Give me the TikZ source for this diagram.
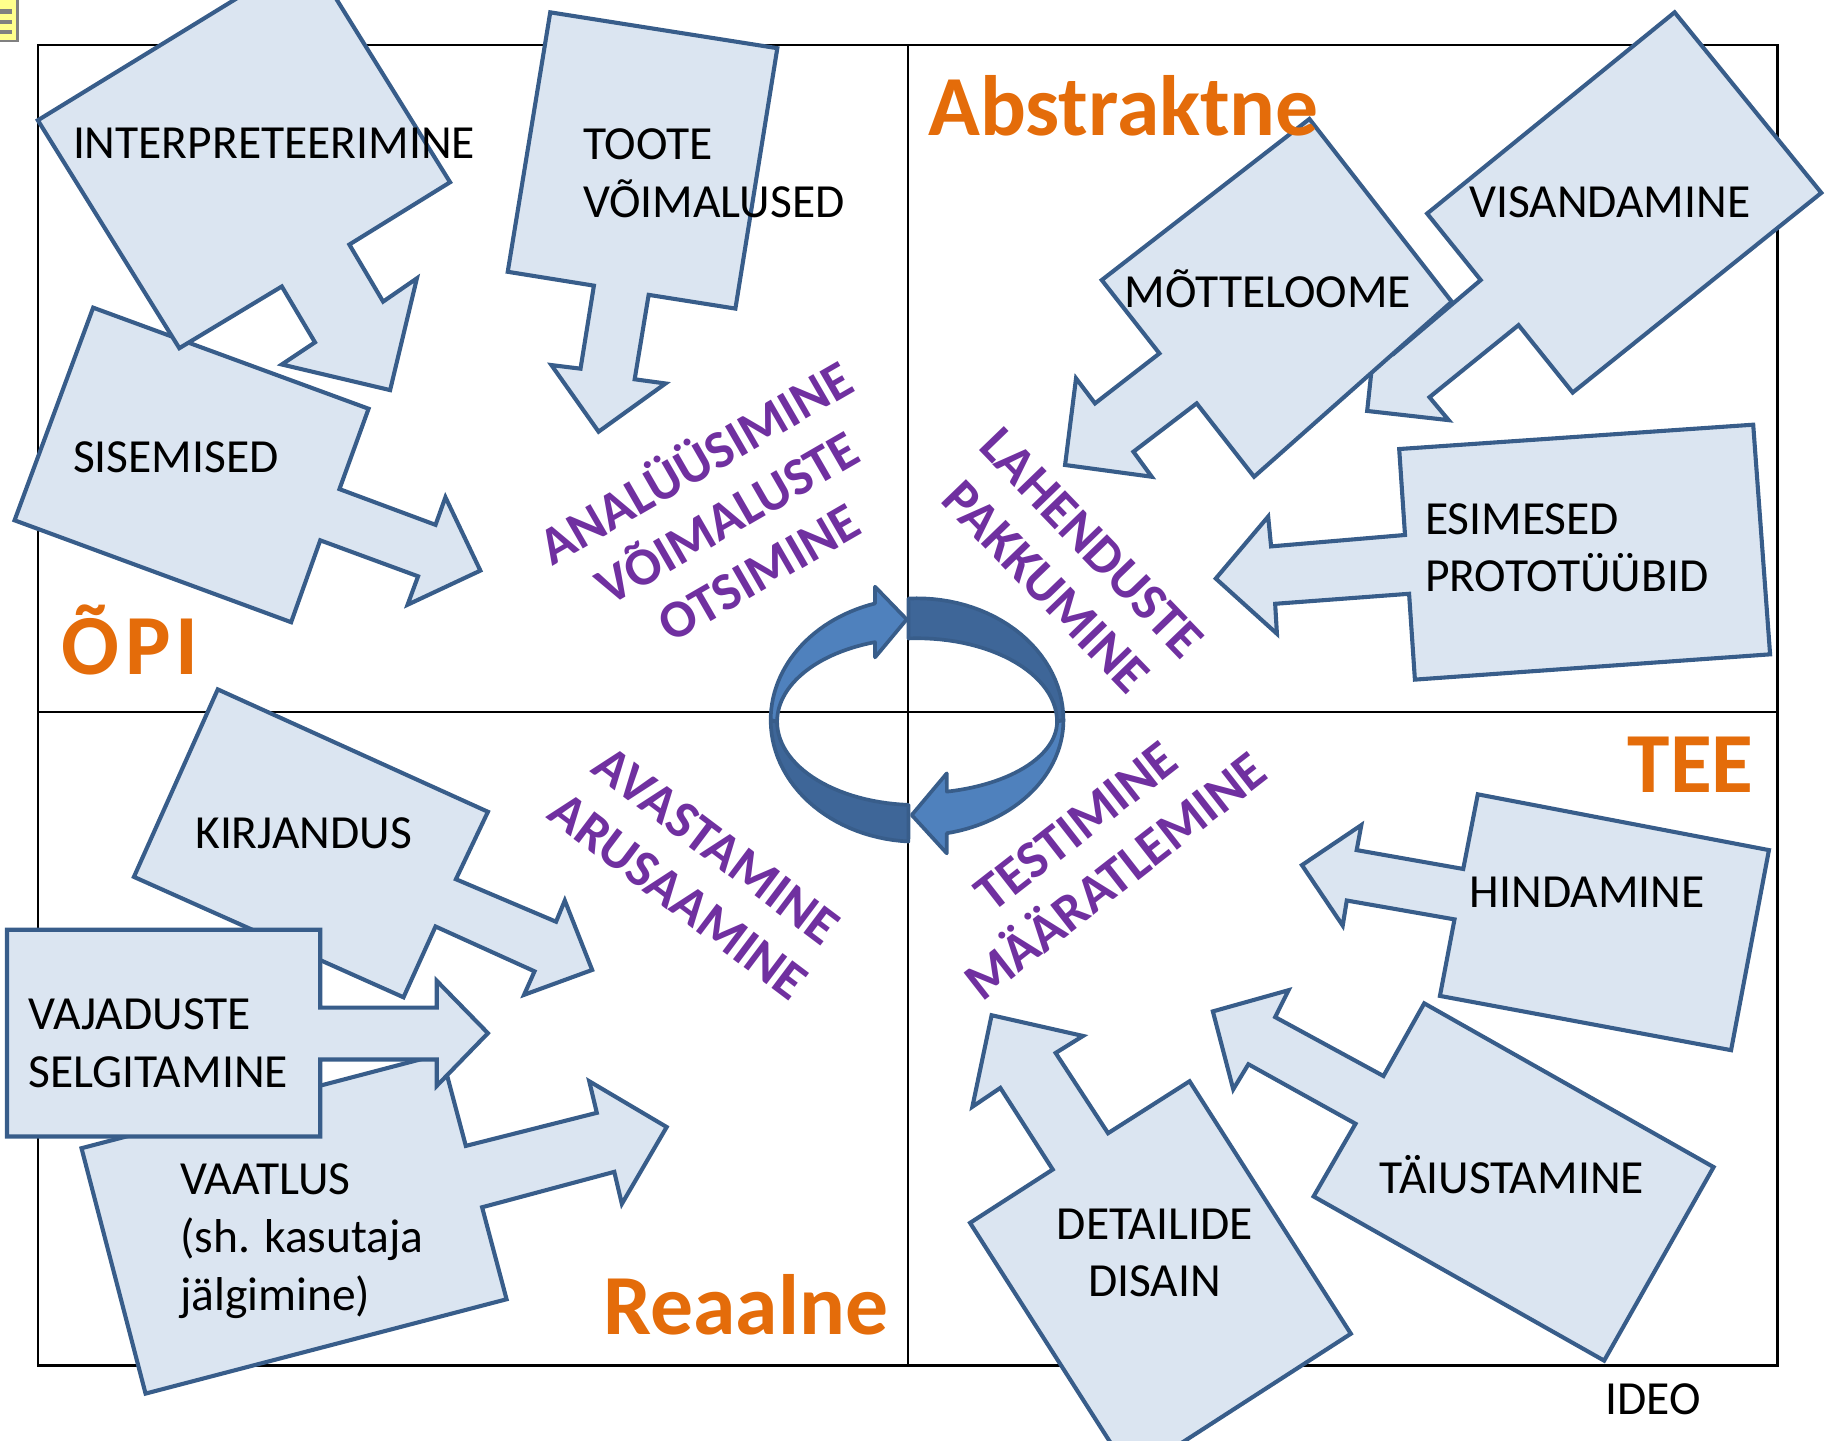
\documentclass[tikz,border=0pt]{standalone}
\usepackage{fontspec}
\setmainfont{Carlito}
\usepackage{tikz}
\definecolor{boxfill}{RGB}{219,229,241}
\definecolor{boxline}{RGB}{56,93,138}
\definecolor{titleorange}{RGB}{228,108,10}
\definecolor{phasepurple}{RGB}{112,48,160}
\definecolor{ringlight}{RGB}{79,129,189}
\definecolor{ringdark}{RGB}{62,102,152}
\definecolor{notefill}{RGB}{255,255,140}

\begin{document}
\begin{tikzpicture}[x=0.01cm, y=-0.01cm,
  callout/.style={draw=boxline, fill=boxfill, line width=1pt},
  lbl/.style={font=\fontsize{11.6}{14.1}\selectfont, inner sep=0pt, align=left},
  titletext/.style={font=\fontsize{20.9}{24}\selectfont\bfseries, text=titleorange, inner sep=0pt},
  phasetext/.style={font=\fontsize{13}{15.5}\selectfont\bfseries, text=phasepurple, inner sep=0pt, align=center},
  ringband/.style={draw=boxline, line width=0.9pt, line join=round}]
  \useasboundingbox (0,0) rectangle (1568,1237);
  \clip (0,0) rectangle (1568,1237);

  % frame
  \draw[line width=0.6pt] (32.5,38.5) rectangle (1526.5,1172.5);
  \draw[line width=0.6pt] (779.5,38.5) -- (779.5,1172.5);
  \draw[line width=0.6pt] (32.5,611.5) -- (1526.5,611.5);

  % note marker
  \draw[gray, fill=notefill, line width=0.6pt] (-3,-3) rectangle (15.2,35.3);
  \foreach \y in {9.9,18.6,27.2}
    \draw[gray, line width=1pt] (0,\y) -- (10.6,\y);

  % callouts
  \draw[callout] (80,264.2) -- (316.5,351) -- (291.5,420) -- (374,450.7) -- (382.5,427) -- (412.5,490) -- (350,519.3) -- (359,494.9) -- (275,464) -- (250,534.3) -- (12.5,446.8) -- cycle;
  \draw[callout] (32.5,103.3) -- (265,-39.2) -- (386.5,156.5) -- (300,210) -- (329,259) -- (358,239) -- (335,335) -- (242,313) -- (270.5,294) -- (242,246) -- (154,299) -- cycle;
  \draw[callout] (472.5,10.6) -- (667.5,41.4) -- (631.5,265) -- (557,253.2) -- (545,325.7) -- (571.5,329.3) -- (514,370.7) -- (473.5,313.5) -- (498.5,316.6) -- (510,245.3) -- (436,233.4) -- cycle;
  \draw[callout] (1438,10.6) -- (1564,165.6) -- (1350.5,337.1) -- (1304,279.2) -- (1227.5,341.1) -- (1244,360.8) -- (1174,352.9) -- (1181.5,283.1) -- (1197,303.6) -- (1271.5,240.5) -- (1225.5,183.4) -- cycle;
  \draw[callout] (1124.4,102.2) -- (1246.6,259.1) -- (1076.9,409.4) -- (1027.6,346.4) -- (973.3,387.9) -- (989,409.4) -- (914.6,399.3) -- (924,324.9) -- (940.3,346.4) -- (995.6,303.5) -- (946.1,240.5) -- cycle;
  \draw[callout] (1201.5,385.6) -- (1505.5,364.7) -- (1520,561.9) -- (1215,583.6) -- (1210,509.9) -- (1095,518.5) -- (1096.5,544.2) -- (1044,496.8) -- (1089,443.6) -- (1091.5,469.2) -- (1206.5,459.4) -- cycle;
  \draw[callout] (187,592) -- (419,697.1) -- (391.5,755) -- (477.5,791.5) -- (485,773.3) -- (508.5,832.9) -- (450,854.3) -- (459,834.1) -- (374,795.6) -- (346.5,856.4) -- (115,753) -- cycle;
  \draw[callout] (70,986) -- (379,905) -- (400,984) -- (512.5,955.6) -- (506,928.5) -- (572.5,967.8) -- (534,1033.8) -- (527.5,1006.3) -- (414,1036.7) -- (435,1115.7) -- (125,1196.7) -- cycle;
  \draw[callout] (6,798.4) -- (275,798.4) -- (275,865.3) -- (375,865.3) -- (375,842.2) -- (419,887.2) -- (375,932.5) -- (375,909.8) -- (275,909.8) -- (275,975.9) -- (6,975.9) -- cycle;
  \draw[callout] (1269,682.1) -- (1519,730) -- (1486.5,901.8) -- (1236.5,855.2) -- (1249,789.5) -- (1156.5,773.3) -- (1153,794.8) -- (1118,742.9) -- (1169,708.5) -- (1165,730) -- (1256.5,746.2) -- cycle;
  \draw[callout] (1223,861.6) -- (1471.5,1002.2) -- (1377.5,1168.4) -- (1128,1027.4) -- (1164,965) -- (1072,913.9) -- (1059,935.4) -- (1041.5,868.5) -- (1106.5,850.3) -- (1095,873.4) -- (1188,924) -- cycle;
  \draw[callout] (1021.5,928.5) -- (1160,1145.3) -- (971.5,1266.9) -- (833,1050.1) -- (904,1004.3) -- (859,934.2) -- (835,950.4) -- (851.5,871.8) -- (930,889.6) -- (906.5,904.2) -- (951.5,973.1) -- cycle;

  % ring in the middle
  \draw[ringband, fill=ringdark] plot[variable=\t, domain=266.6:360, samples=30] ({787.5+125.7*cos(\t)},{618.3+104.5*sin(\t)})
    -- plot[variable=\t, domain=360:266.5, samples=30] ({787.5+120.2*cos(\t)},{619.7+71.6*sin(\t)}) -- cycle;
  \draw[ringband, fill=ringdark] plot[variable=\t, domain=93.4:180, samples=30] ({787.5+125.7*cos(\t)},{618.3+104.5*sin(\t)})
    -- plot[variable=\t, domain=180:93.5, samples=30] ({787.5+120.2*cos(\t)},{619.7+71.6*sin(\t)}) -- cycle;
  \draw[ringband, fill=ringlight] plot[variable=\t, domain=180:253.3, samples=30] ({787.5+125.7*cos(\t)},{618.3+104.5*sin(\t)})
    -- (751.4,503.8) -- (778.6,531.9) -- (751.4,564.5)
    -- plot[variable=\t, domain=252.5:180, samples=30] ({787.5+120.2*cos(\t)},{619.7+71.6*sin(\t)}) -- cycle;
  \draw[ringband, fill=ringlight] plot[variable=\t, domain=0:78.3, samples=30] ({787.5+125.7*cos(\t)},{618.3+99.3*sin(\t)})
    -- (813,732.8) -- (782.9,699.9) -- (813,664.1)
    -- plot[variable=\t, domain=77.7:0, samples=30] ({787.5+120.2*cos(\t)},{619.7+61.5*sin(\t)}) -- cycle;

  % texts
  \node[lbl, anchor=base west] (0) at (62,136) {INTERPRETEERIMINE};
  \node[lbl, anchor=north west] (1) at (500,110.2) {TOOTE\\VÕIMALUSED};
  \node[lbl, anchor=base west] (2) at (62,406) {SISEMISED};
  \node[lbl, anchor=base west] (3) at (965,264) {MÕTTELOOME};
  \node[lbl, anchor=base west] (4) at (1261,187) {VISANDAMINE};
  \node[lbl, anchor=north west] (5) at (1223,431.6) {ESIMESED\\PROTOTÜÜBID};
  \node[lbl, anchor=base west] (6) at (167,729) {KIRJANDUS};
  \node[lbl, anchor=north west] (7) at (24,856.9) {VAJADUSTE\\SELGITAMINE};
  \node[lbl, anchor=north west] (8) at (154,998.7) {VAATLUS\\(sh. kasutaja\\jälgimine)};
  \node[lbl, anchor=base west] (9) at (1261.5,779.4) {HINDAMINE};
  \node[lbl, anchor=base west] (10) at (1184,1024.5) {TÄIUSTAMINE};
  \node[lbl, anchor=north, align=center] (11) at (991.5,1037.2) {DETAILIDE\\DISAIN};
  \node[lbl, anchor=base west] (12) at (1378,1215) {IDEO};

  \node[titletext, anchor=base west] (13) at (52,579.6) {Õ\kern1.6pt P\kern1pt I};
  \node[titletext, anchor=base west] (14) at (796.5,116.3) {Abstraktne};
  \node[titletext, anchor=base west] (15) at (517.5,1146) {Reaalne};
  \node[titletext, anchor=base east] (16) at (1506.5,680.9) {TEE};

  \node[phasetext, rotate=30] (17) at (623,442) {ANALÜÜSIMINE\\VÕIMALUSTE\\OTSIMINE};
  \node[phasetext, rotate=-46] (18) at (918,485) {LAHENDUSTE\\PAKKUMINE};
  \node[phasetext, rotate=-37] (19) at (599,748) {AVASTAMINE\\ARUSAAMINE};
  \node[phasetext, rotate=38] (20) at (941,731) {TESTIMINE\\MÄÄRATLEMINE};
\end{tikzpicture}
\end{document}
